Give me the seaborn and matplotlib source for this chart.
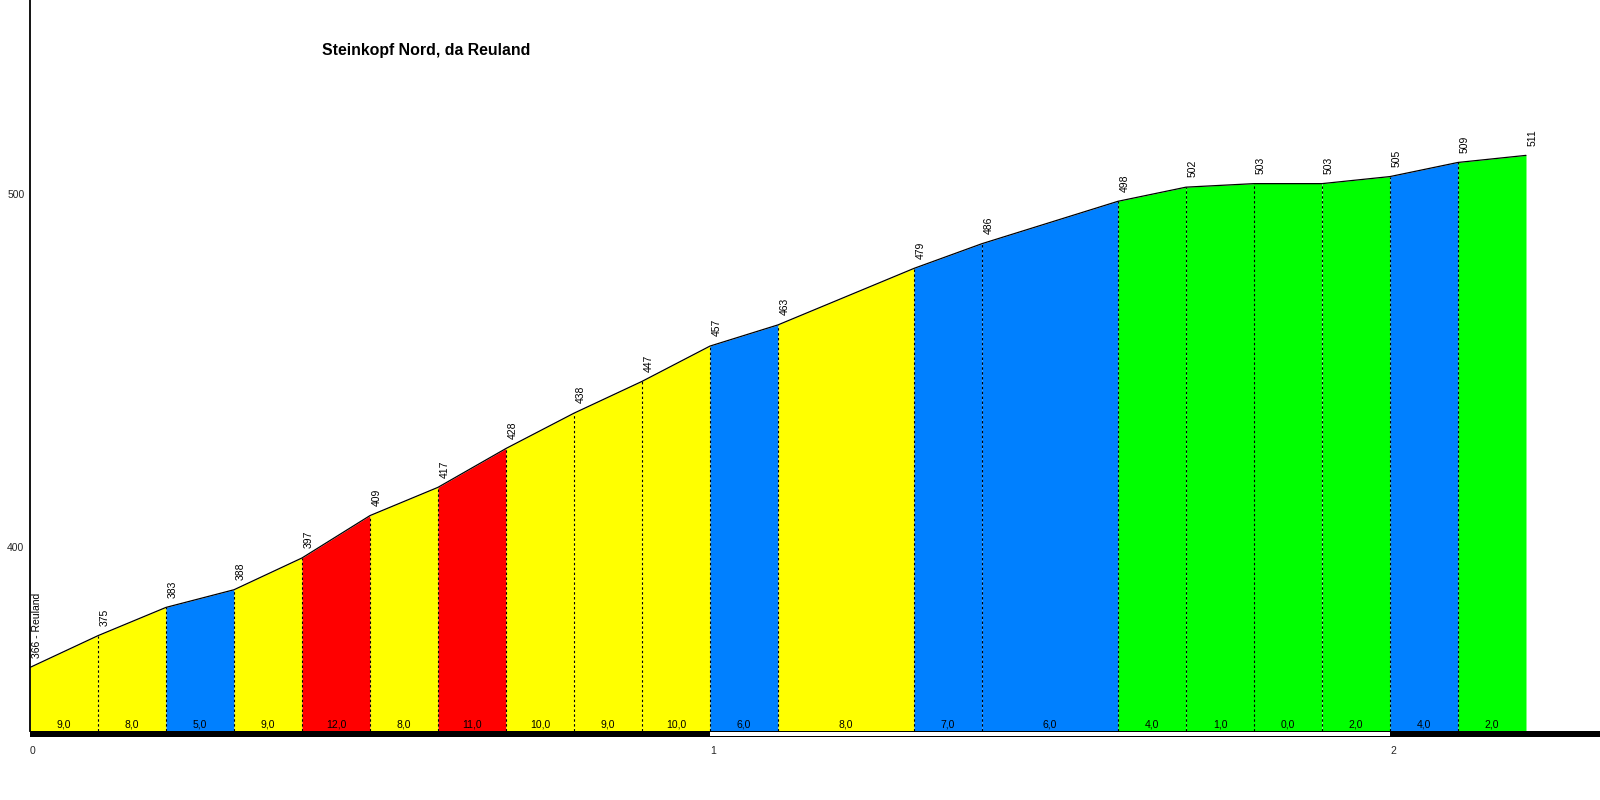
import matplotlib
matplotlib.use("Agg")
import matplotlib.pyplot as plt
from matplotlib.patches import Rectangle
import seaborn as sns
import pandas as pd

# ---- data ----
distance_km = [0.0, 0.1, 0.2, 0.3, 0.4, 0.5, 0.6, 0.7, 0.8, 0.9, 1.0,
               1.1, 1.3, 1.4, 1.6, 1.7, 1.8, 1.9, 2.0, 2.1, 2.2]
elevation_m = [366, 375, 383, 388, 397, 409, 417, 428, 438, 447, 457,
               463, 479, 486, 498, 502, 503, 503, 505, 509, 511]
gradient_pct = [9, 8, 5, 9, 12, 8, 11, 10, 9, 10,
                6, 8, 7, 6, 4, 1, 0, 2, 4, 2]
segment_class = ["y", "y", "b", "y", "r", "y", "r", "y", "y", "y",
                 "b", "y", "b", "b", "g", "g", "g", "g", "b", "g"]
start_name = "Reuland"
title = "Steinkopf Nord, da Reuland"
x_ticks = [0, 1, 2]
y_ticks = [400, 500]

palette = {"y": "#FFFF00", "b": "#0080FF", "r": "#FF0000", "g": "#00FF00"}

sns.set_style("white")
plt.rcParams["font.family"] = ["Liberation Sans", "DejaVu Sans"]

fig = plt.figure(figsize=(16, 8), dpi=100)
ax = fig.add_axes([30 / 1600, 69 / 800, 1570 / 1600, 731 / 800])
xmax = 1570 / 680
ymin, ymax = 348, 555
ax.set_xlim(0, xmax)
ax.set_ylim(ymin, ymax)

# coloured segments
for i in range(len(gradient_pct)):
    x0, x1 = distance_km[i], distance_km[i + 1]
    ax.fill_between([x0, x1], [elevation_m[i], elevation_m[i + 1]], ymin,
                    color=palette[segment_class[i]], linewidth=0, zorder=1)
    # gradient label
    ax.annotate(f"{gradient_pct[i]:.1f}".replace(".", ","),
                xy=((x0 + x1) / 2, ymin), xytext=(0, 5), textcoords="offset points",
                ha="center", va="center", fontsize=7.5, color="black", zorder=4)

# dashed separators
for i in range(1, len(distance_km) - 1):
    ax.plot([distance_km[i], distance_km[i]], [ymin, elevation_m[i]],
            color="black", linestyle=(0, (2.2, 2.2)), linewidth=0.8, zorder=2)

# profile line
df = pd.DataFrame({"km": distance_km, "m": elevation_m})
sns.lineplot(data=df, x="km", y="m", ax=ax, color="black", linewidth=0.9,
             sort=False, zorder=3)

# elevation labels
for i, (x, y) in enumerate(zip(distance_km, elevation_m)):
    txt = f"{y} - {start_name}" if i == 0 else f"{y}"
    ax.annotate(txt, xy=(x, y), xytext=(5, 7), textcoords="offset points",
                rotation=90, ha="center", va="bottom", fontsize=7.5, color="black")

# distance bar under the axis
tr = ax.get_xaxis_transform()
h = 6 / 731
ax.add_patch(Rectangle((0, -h), xmax, h, transform=tr, facecolor="black",
                       edgecolor="none", clip_on=False, zorder=5))
ax.add_patch(Rectangle((1, -h + 1.2 / 731), 1, h - 2.4 / 731, transform=tr,
                       facecolor="white", edgecolor="none", clip_on=False, zorder=6))

# axes styling
for s in ["top", "right", "bottom"]:
    ax.spines[s].set_visible(False)
ax.spines["left"].set_color("black")
ax.spines["left"].set_linewidth(1.3)
ax.set_xlabel("")
ax.set_ylabel("")
ax.set_xticks(x_ticks)
ax.set_xticklabels([str(t) for t in x_ticks], ha="left", fontsize=7.5)
ax.tick_params(axis="x", length=0, pad=11)
ax.set_yticks(y_ticks)
ax.set_yticklabels([str(t) for t in y_ticks], fontsize=7.5)
ax.tick_params(axis="y", direction="in", length=3, width=1, color="red", pad=4)

fig.text(322 / 1600, 1 - 50.7 / 800, title, ha="left", va="center",
         fontsize=11.4, fontweight="bold", color="black")

fig.savefig("out.png", dpi=100)
